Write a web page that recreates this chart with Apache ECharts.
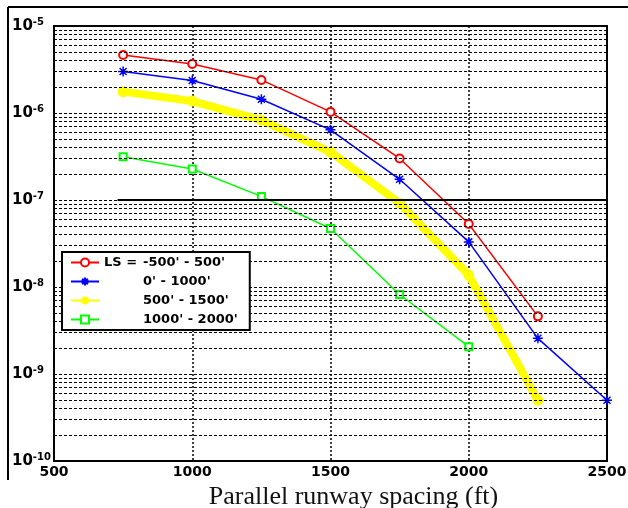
<!DOCTYPE html>
<html>
<head>
<meta charset="utf-8">
<script src="https://cdn.jsdelivr.net/npm/echarts@6/dist/echarts.min.js"></script>
<style>
html,body{margin:0;padding:0;background:#fff;}
#chart{width:628px;height:508px;}
</style>
</head>
<body>
<div id="chart"></div>
<script>
// ---- data ----
const seriesNames = ["-500' - 500'", "0' - 1000'", "500' - 1500'", "1000' - 2000'"];
const legendPrefix = "LS = ";
const xRed    = [750, 1000, 1250, 1500, 1750, 2000, 2250];
const yRed    = [4.64e-6, 3.65e-6, 2.4e-6, 1.03e-6, 3.0e-7, 5.3e-8, 4.6e-9];
const xBlue   = [750, 1000, 1250, 1500, 1750, 2000, 2250, 2500];
const yBlue   = [3.0e-6, 2.36e-6, 1.44e-6, 6.4e-7, 1.73e-7, 3.3e-8, 2.57e-9, 5.0e-10];
const xYellow = [750, 1000, 1250, 1500, 1750, 2000, 2250];
const yYellow = [1.76e-6, 1.37e-6, 8.3e-7, 3.56e-7, 9.2e-8, 1.37e-8, 5.0e-10];
const xGreen  = [750, 1000, 1250, 1500, 1750, 2000];
const yGreen  = [3.15e-7, 2.27e-7, 1.1e-7, 4.7e-8, 8.2e-9, 2.06e-9];
const thresholdValue = 1e-7;
const thresholdFrom = 730, thresholdTo = 2500;
const xTicks = [500, 1000, 1500, 2000, 2500];
const yDecades = [-10, -9, -8, -7, -6, -5];
const minorMultipliers = [2, 3, 4, 5, 6, 7, 8, 9];
const xTitle = "Parallel runway spacing (ft)";

const xMin = xTicks[0], xMax = xTicks[xTicks.length - 1];
const pairs = (xs, ys) => xs.map((x, i) => [x, ys[i]]);
const minorGrid = [];
yDecades.slice(0, -1).forEach(e => minorMultipliers.forEach(m => {
  const v = m * Math.pow(10, e);
  minorGrid.push([{ coord: [xMin, v] }, { coord: [xMax, v] }]);
}));

const asterisk = 'path://M0,5L10,5L5,5L5,0L5,10L5,5L1.5,1.5L8.5,8.5L5,5L8.5,1.5L1.5,8.5L5,5Z';
const tickFont = { fontFamily: 'DejaVu Sans', fontWeight: 'bold', color: '#000' };

const chart = echarts.init(document.getElementById('chart'), null, { renderer: 'canvas' });
chart.setOption({
  animation: false,
  backgroundColor: '#fff',
  grid: { left: 54, right: 21, top: 26, bottom: 47, outerBoundsMode: 'none', containLabel: false,
          show: true, borderColor: '#000', borderWidth: 2, backgroundColor: 'transparent' },
  xAxis: {
    type: 'value', min: xMin, max: xMax, interval: 500,
    axisLine: { show: true, lineStyle: { color: '#000', width: 2 } },
    axisTick: { show: false },
    splitLine: { show: true, lineStyle: { color: '#000', type: [2, 2], width: 1.5 } },
    axisLabel: { ...tickFont, fontSize: 14, margin: 4, formatter: v => String(v) },
    name: xTitle, nameLocation: 'middle', nameGap: 17,
    nameTextStyle: { fontFamily: 'Liberation Serif', fontSize: 26, color: '#111', padding: [0, 0, 0, 46] }
  },
  yAxis: {
    type: 'log', logBase: 10, min: 1e-10, max: 1e-5,
    axisLine: { show: true, lineStyle: { color: '#000', width: 2 } },
    axisTick: { show: false },
    splitLine: { show: true, lineStyle: { color: '#000', type: [3, 2], width: 1 } },
    axisLabel: {
      align: 'left', margin: 42,
      formatter: v => '{b|10}{s|' + Math.round(Math.log10(v)) + '}',
      rich: {
        b: { ...tickFont, fontSize: 15, lineHeight: 17 },
        s: { ...tickFont, fontSize: 10, lineHeight: 10, verticalAlign: 'top' }
      }
    }
  },
  legend: {
    data: seriesNames, orient: 'vertical', left: 62, top: 252, zlevel: 1, z: 10,
    padding: [4, 12, 4, 8], itemWidth: 28, itemHeight: 10, itemGap: 6, itemTextGap: 8,
    backgroundColor: '#fff', borderColor: '#000', borderWidth: 2,
    formatter: name => '{p|' + (name === seriesNames[0] ? legendPrefix : ' ') + '}{n|' + name + '}',
    textStyle: {
      rich: {
        p: { ...tickFont, fontSize: 13, width: 39 },
        n: { ...tickFont, fontSize: 13 }
      }
    },
    selectedMode: false
  },
  graphic: [
    { type: 'line', shape: { x1: 8, y1: 7, x2: 628, y2: 7 }, style: { stroke: '#000', lineWidth: 2 } },
    { type: 'line', shape: { x1: 8, y1: 7, x2: 8, y2: 480 }, style: { stroke: '#000', lineWidth: 2 } }
  ],
  series: [
    {
      name: 'grid', type: 'line', data: [], z: 1, silent: true,
      markLine: {
        silent: true, symbol: 'none', label: { show: false }, animation: false,
        lineStyle: { color: '#000', type: [3, 2], width: 1 },
        data: minorGrid
      }
    },
    {
      name: 'threshold', type: 'line', data: [], z: 2, silent: true,
      markLine: {
        silent: true, symbol: 'none', label: { show: false }, animation: false,
        lineStyle: { color: '#000', type: 'solid', width: 2 },
        data: [[{ coord: [thresholdFrom, thresholdValue] }, { coord: [thresholdTo, thresholdValue] }]]
      }
    },
    {
      name: seriesNames[0], type: 'line', data: pairs(xRed, yRed), z: 3,
      symbol: 'emptyCircle', symbolSize: 8,
      lineStyle: { color: '#ff0000', width: 1.5 },
      itemStyle: { color: '#ff0000', borderColor: '#ff0000', borderWidth: 1.5 }
    },
    {
      name: seriesNames[1], type: 'line', data: pairs(xBlue, yBlue), z: 3,
      symbol: asterisk, symbolSize: 10,
      lineStyle: { color: '#0000ff', width: 1.5 },
      itemStyle: { color: '#0000ff', borderColor: '#0000ff', borderWidth: 1.5 }
    },
    {
      name: seriesNames[2], type: 'line', data: pairs(xYellow, yYellow), z: 3,
      symbol: 'circle', symbolSize: 11,
      lineStyle: { color: '#ffff00', width: 8 },
      itemStyle: { color: '#ffff00' }
    },
    {
      name: seriesNames[3], type: 'line', data: pairs(xGreen, yGreen), z: 3,
      symbol: 'emptyRect', symbolSize: 7,
      lineStyle: { color: '#00ff00', width: 1.5 },
      itemStyle: { color: '#00ff00', borderColor: '#00ff00', borderWidth: 1.5 }
    }
  ]
});
</script>
</body>
</html>
